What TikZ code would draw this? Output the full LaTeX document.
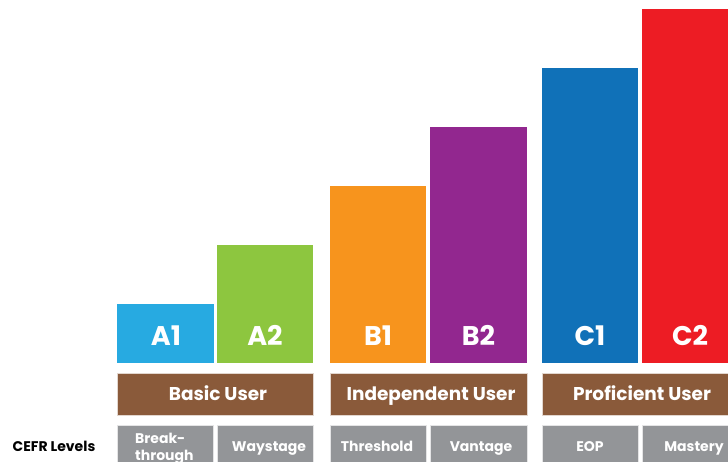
\documentclass[tikz,border=0pt]{standalone}
\usepackage{fontspec}
\setmainfont{Poppins}
\begin{document}
\begin{tikzpicture}[x=1pt,y=-1pt,
  lvl/.style={font=\fontsize{27}{29}\selectfont\bfseries,text=white,anchor=base,inner sep=0pt},
  grp/.style={fill=brownbox,draw=white!75!brownbox,line width=0.6pt},
  grplbl/.style={font=\fontsize{18.5}{20}\selectfont\bfseries,text=white,anchor=base,inner sep=0pt},
  sub/.style={fill=graybox,draw=white!75!graybox,line width=0.6pt},
  sublbl/.style={font=\fontsize{14}{17}\selectfont\bfseries,text=white,anchor=base,inner sep=0pt,align=left}]
\definecolor{ca1}{HTML}{27AAE1}
\definecolor{ca2}{HTML}{8DC63F}
\definecolor{cb1}{HTML}{F7941D}
\definecolor{cb2}{HTML}{92278F}
\definecolor{cc1}{HTML}{1071B8}
\definecolor{cc2}{HTML}{ED1C24}
\definecolor{brownbox}{HTML}{8A5A3A}
\definecolor{graybox}{HTML}{939598}
\useasboundingbox (0,0) rectangle (728,461);
\clip (0,0) rectangle (728,461);
% bars
\fill[ca1] (117,304) rectangle (214,363);
\fill[ca2] (217,245) rectangle (313,363);
\fill[cb1] (330,186) rectangle (426,363);
\fill[cb2] (430,127) rectangle (527,363);
\fill[cc1] (542,68) rectangle (638,363);
\fill[cc2] (642,9) rectangle (740,363);
\node[lvl] (a1) at (166,345) {A1};
\node[lvl] (a2) at (265,345) {A2};
\node[lvl] (b1) at (378,345) {B1};
\node[lvl] (b2) at (478.5,345) {B2};
\node[lvl] (c1) at (590,345) {C1};
\node[lvl] (c2) at (690,345) {C2};
% group boxes
\draw[grp] (117,373) rectangle (313,415);
\draw[grp] (330,373) rectangle (527,415);
\draw[grp] (542,373) rectangle (740,415);
\node[grplbl] (basic) at (218,400.5) {Basic User};
\node[grplbl] (indep) at (431,400.5) {Independent User};
\node[grplbl] (prof) at (642,400.5) {Proficient User};
% sub boxes
\draw[sub] (117,425) rectangle (213,470);
\draw[sub] (217,425) rectangle (313,470);
\draw[sub] (330,425) rectangle (426,470);
\draw[sub] (430,425) rectangle (527,470);
\draw[sub] (542,425) rectangle (638,470);
\draw[sub] (642,425) rectangle (740,470);
\node[sublbl,anchor=base west] (brk) at (135,460.5) {Break-\\through};
\node[sublbl] (way) at (269,451.5) {Waystage};
\node[sublbl] (thr) at (377,451.5) {Threshold};
\node[sublbl] (van) at (481,451.5) {Vantage};
\node[sublbl] (eop) at (590,451.5) {EOP};
\node[sublbl] (mas) at (694,451.5) {Mastery};
\node[font=\fontsize{14}{16}\selectfont\bfseries,text=black,anchor=base,inner sep=0pt] (cefr) at (54,451.5) {CEFR Levels};
\end{tikzpicture}
\end{document}
